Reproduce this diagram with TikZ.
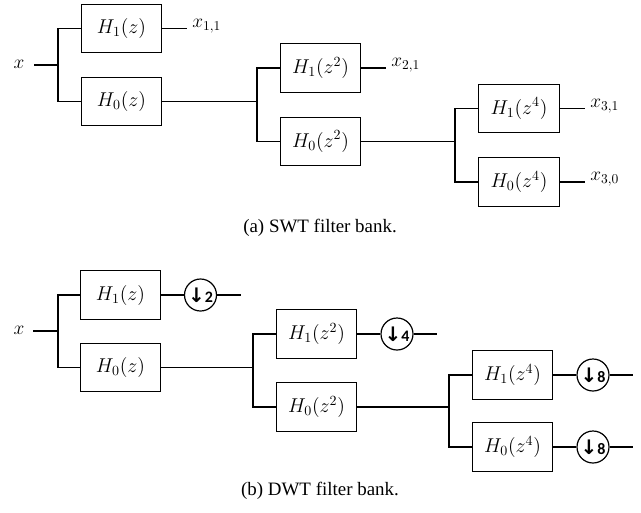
\RequirePackage{fix-cm}
\documentclass[tikz,border=0pt]{standalone}
\usepackage{fontspec}
\setmainfont{Liberation Serif}
\newfontfamily\arwfont{DejaVu Sans}
\newfontfamily\calibfont{Carlito}
\begin{document}
\begin{tikzpicture}[x=0.75pt,y=-0.75pt,
  filt/.style={draw,line width=0.9pt,minimum width=60.5pt,minimum height=36.5pt,inner sep=0pt,font=\fontsize{15}{17}\selectfont},
  wire/.style={line width=0.9pt},
  dsamp/.style={draw,circle,line width=0.9pt,minimum size=24pt,inner sep=0pt},
  lab/.style={inner sep=0pt,font=\fontsize{14.5}{16}\selectfont},
  captext/.style={inner sep=0pt,font=\fontsize{14.2}{16}\selectfont}]
\useasboundingbox (0,0) rectangle (641,512);
\newcommand{\dn}[1]{{\arwfont\bfseries\fontsize{15}{15}\selectfont ↓}{\calibfont\bfseries\fontsize{12}{14}\selectfont #1}}
% ---------------- (a) SWT ----------------
\node[lab] (xa) at (19,64) {$x$};
\coordinate (xsa) at (34,65);
\coordinate (ja1) at (58,65);
\node[filt] (a11) at (121.5,28.5) {$H_1(z)$};
\node[filt] (a10) at (121.5,101.5) {$H_0(z)$};
\coordinate (oa11) at (187,28.5);
\node[lab,anchor=west] (la11) at (192,26) {$x_{1,1}$};
\draw[wire] (xsa) -- (ja1);
\draw[wire] (a11.west) -| (ja1) |- (a10.west);
\draw[wire] (a11.east) -- (oa11);
\coordinate (ja2) at (257,101.5);
\node[filt] (a21) at (320.5,68) {$H_1(z^2)$};
\node[filt] (a20) at (320.5,141.5) {$H_0(z^2)$};
\coordinate (oa21) at (386,68);
\node[lab,anchor=west] (la21) at (391,65.5) {$x_{2,1}$};
\draw[wire] (a10.east) -- (ja2);
\draw[wire] (a21.west) -| (ja2) |- (a20.west);
\draw[wire] (a21.east) -- (oa21);
\coordinate (ja3) at (455,141.5);
\node[filt] (a31) at (519,108.5) {$H_1(z^4)$};
\node[filt] (a30) at (519,182) {$H_0(z^4)$};
\coordinate (oa31) at (585,108.5);
\coordinate (oa30) at (585,182);
\node[lab,anchor=west] (la31) at (590,106) {$x_{3,1}$};
\node[lab,anchor=west] (la30) at (590,179.5) {$x_{3,0}$};
\draw[wire] (a20.east) -- (ja3);
\draw[wire] (a31.west) -| (ja3) |- (a30.west);
\draw[wire] (a31.east) -- (oa31);
\draw[wire] (a30.east) -- (oa30);
\node[captext] (capa) at (320,228) {(a) SWT filter bank.};
% ---------------- (b) DWT ----------------
\node[lab] (xb) at (19,330) {$x$};
\coordinate (xsb) at (33,331);
\coordinate (jb1) at (58,331);
\node[filt] (b11) at (120.5,295) {$H_1(z)$};
\node[filt] (b10) at (120.5,367.5) {$H_0(z)$};
\node[dsamp] (d2) at (200.5,295) {\dn{2}};
\coordinate (ob11) at (241,295);
\draw[wire] (xsb) -- (jb1);
\draw[wire] (b11.west) -| (jb1) |- (b10.west);
\draw[wire] (b11.east) -- (d2.west);
\draw[wire] (d2.east) -- (ob11);
\coordinate (jb2) at (253,367.5);
\node[filt] (b21) at (316.5,334) {$H_1(z^2)$};
\node[filt] (b20) at (316.5,407) {$H_0(z^2)$};
\node[dsamp] (d4) at (397,334) {\dn{4}};
\coordinate (ob21) at (437,334);
\draw[wire] (b10.east) -- (jb2);
\draw[wire] (b21.west) -| (jb2) |- (b20.west);
\draw[wire] (b21.east) -- (d4.west);
\draw[wire] (d4.east) -- (ob21);
\coordinate (jb3) at (449,407);
\node[filt] (b31) at (512.5,375) {$H_1(z^4)$};
\node[filt] (b30) at (512.5,447) {$H_0(z^4)$};
\node[dsamp] (d81) at (593,375) {\dn{8}};
\node[dsamp] (d80) at (593,447) {\dn{8}};
\coordinate (ob31) at (633,375);
\coordinate (ob30) at (633,447);
\draw[wire] (b20.east) -- (jb3);
\draw[wire] (b31.west) -| (jb3) |- (b30.west);
\draw[wire] (b31.east) -- (d81.west);
\draw[wire] (d81.east) -- (ob31);
\draw[wire] (b30.east) -- (d80.west);
\draw[wire] (d80.east) -- (ob30);
\node[captext] (capb) at (320,491) {(b) DWT filter bank.};
\end{tikzpicture}
\end{document}
